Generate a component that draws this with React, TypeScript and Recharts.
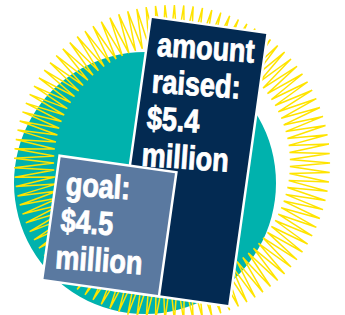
import React from "react";
import { BarChart, Bar, XAxis, YAxis, PieChart, Pie, Cell } from "recharts";

// values
const CATEGORIES = ["amount raised", "goal"];
const AMOUNTS = [5.4, 4.5];
const LABEL_LINES = [
  ["amount", "raised:", "$5.4", "million"],
  ["goal:", "$4.5", "million"],
];
const BAR_COLORS = ["#032a52", "#5a79a0"];

const W = 345;
const H = 315;
const TILT = 8; // both bars lean the same way
const PIVOT = { x: 42, y: 280 };
const BAR_W = 118;
const FONT = '"Liberation Sans", Arial, sans-serif';
const SQUEEZE = 0.82; // narrow look

const barData = CATEGORIES.map((name, i) => ({
  name,
  value: AMOUNTS[i],
  lines: LABEL_LINES[i],
  color: BAR_COLORS[i],
}));

const circleData = [{ name: "bg", value: 1 }];

// zig-zag ring behind the bars
function sunburstPath(cx: number, cy: number, r0: number, r1: number, n: number) {
  const pts: string[] = [];
  for (let i = 0; i < n * 2; i++) {
    const a = (Math.PI * i) / n;
    const r = i % 2 === 0 ? r1 : r0;
    pts.push(`${(cx + r * Math.cos(a)).toFixed(1)},${(cy + r * Math.sin(a)).toFixed(1)}`);
  }
  return "M" + pts.join("L") + "Z";
}

function TiltedBar(props: any) {
  const { x, y, width, height, payload } = props;
  const left = x + width / 2 - BAR_W / 2;
  return (
    <g transform={`rotate(${TILT} ${PIVOT.x} ${PIVOT.y})`}>
      <rect x={left} y={y} width={BAR_W} height={height} fill={payload.color} stroke="#fff" strokeWidth={2.5} />
      {payload.lines.map((t: string, i: number) => {
        const tx = left + 11;
        const ty = y + 38 + 37 * i;
        return (
          <text
            key={i}
            x={0}
            y={0}
            transform={`translate(${tx} ${ty}) rotate(-4) scale(${SQUEEZE} 1)`}
            fill="#fff"
            stroke="#fff"
            strokeWidth={0.9}
            fontFamily={FONT}
            fontWeight="bold"
            fontSize={33}
          >
            {t}
          </text>
        );
      })}
    </g>
  );
}

const layer: React.CSSProperties = { position: "absolute", left: 0, top: 0 };

export default function App() {
  return (
    <div style={{ position: "absolute", left: 0, top: 0, width: W, height: H, background: "#fff" }}>
      <div style={layer}>
        <PieChart width={W} height={H} margin={{ top: 0, right: 0, bottom: 0, left: 0 }}>
          <Pie
            data={circleData}
            dataKey="value"
            cx={145}
            cy={183}
            outerRadius={131}
            innerRadius={0}
            stroke="none"
            isAnimationActive={false}
          >
            <Cell fill="#00b2ad" />
          </Pie>
        </PieChart>
      </div>
      <svg style={layer} width={W} height={H}>
        <path d={sunburstPath(172, 163, 118, 158, 105)} fill="none" stroke="#ffe400" strokeWidth={1.5} />
      </svg>
      <div style={layer}>
        <BarChart width={W} height={H} data={barData} margin={{ top: 0, right: 0, bottom: 0, left: 0 }}>
          <XAxis dataKey="name" hide reversed padding={{ left: 65.5, right: 137.5 }} />
          <YAxis hide domain={[3.75, 5.4]} padding={{ top: 4, bottom: 35 }} />
          <Bar dataKey="value" shape={TiltedBar} isAnimationActive={false} />
        </BarChart>
      </div>
    </div>
  );
}
